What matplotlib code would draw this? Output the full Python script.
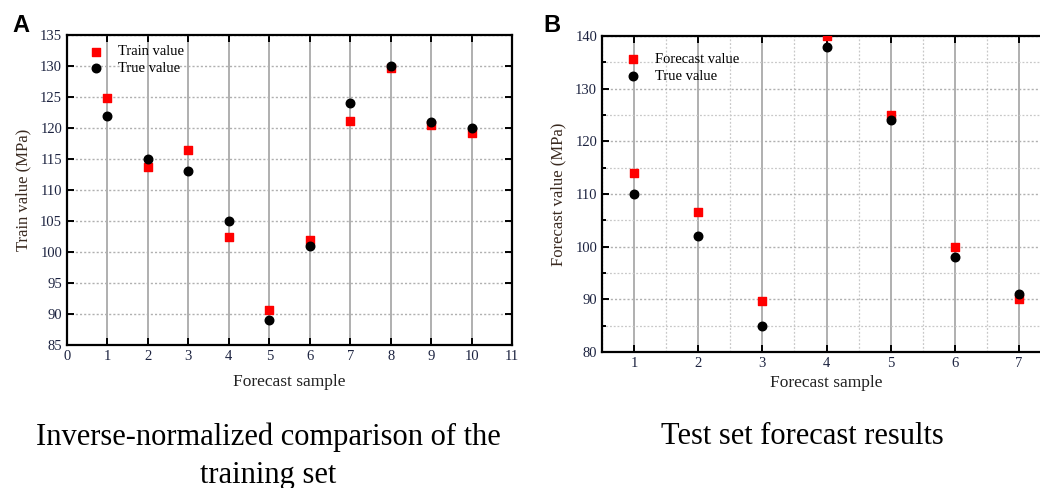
import matplotlib.pyplot as plt
from matplotlib.ticker import MultipleLocator

# Panel A: training set (inverse-normalized)
train_samples = [1, 2, 3, 4, 5, 6, 7, 8, 9, 10]
train_pred = [124.8, 113.7, 116.4, 102.4, 90.6, 102.0, 121.1, 129.6, 120.5, 119.2]
train_true = [122.0, 115.0, 113.0, 105.0, 89.0, 101.0, 124.0, 130.0, 121.0, 120.0]

# Panel B: test set
test_samples = [1, 2, 3, 4, 5, 6, 7]
test_pred = [114.0, 106.5, 89.7, 140.0, 125.0, 100.0, 90.0]
test_true = [110.0, 102.0, 85.0, 138.0, 124.0, 98.0, 91.0]

captions = ["Inverse-normalized comparison of the\ntraining set", "Test set forecast results"]

plt.rcParams['font.family'] = ['Liberation Serif', 'DejaVu Serif']
tick_color = '#1c2340'

fig = plt.figure(figsize=(10.4, 4.88), dpi=100)
W, H = 1040, 488


def px_axes(left, top, right, bottom):
    return fig.add_axes([left / W, 1 - bottom / H, (right - left) / W, (bottom - top) / H])


def style_axes(ax):
    for s in ax.spines.values():
        s.set_linewidth(1.6)
    ax.tick_params(which='both', direction='in', top=True, right=True,
                   labelsize=10.5, labelcolor=tick_color, width=1.4)
    ax.tick_params(which='major', length=5)
    ax.tick_params(which='minor', length=3)
    ax.set_axisbelow(True)


# ---- Panel A ----
ax1 = px_axes(67, 35, 512, 345)
ax1.scatter(train_samples, train_pred, marker='s', s=38, color='#ff0000', zorder=3, label='Train value')
ax1.scatter(train_samples, train_true, marker='o', s=38, color='black', zorder=3, label='True value')
ax1.set_xlim(0, 11)
ax1.set_ylim(85, 135)
ax1.xaxis.set_major_locator(MultipleLocator(1))
ax1.yaxis.set_major_locator(MultipleLocator(5))
ax1.grid(axis='x', color='#9a9a9a', lw=1.1, ls='-')
ax1.grid(axis='y', color='#b0b0b0', lw=1.0, ls=(0, (1.5, 1.5)))
style_axes(ax1)
ax1.set_xlabel('Forecast sample', fontsize=12.5, color='#222222', labelpad=8)
ax1.set_ylabel('Train value (MPa)', fontsize=12, color='#3a2a20', labelpad=6)
ax1.legend(loc='upper left', bbox_to_anchor=(0.01, 1.0), frameon=False, fontsize=10.5,
           handletextpad=0.5, labelspacing=0.25, borderaxespad=0.3)

# ---- Panel B ----
ax2 = px_axes(602, 36, 1051, 352)
ax2.scatter(test_samples, test_pred, marker='s', s=38, color='#ff0000', zorder=3, label='Forecast value')
ax2.scatter(test_samples, test_true, marker='o', s=38, color='black', zorder=3, label='True value')
ax2.set_xlim(0.5, 7.5)
ax2.set_ylim(80, 140)
ax2.xaxis.set_major_locator(MultipleLocator(1))
ax2.xaxis.set_minor_locator(MultipleLocator(0.5))
ax2.yaxis.set_major_locator(MultipleLocator(10))
ax2.yaxis.set_minor_locator(MultipleLocator(5))
ax2.grid(axis='x', which='major', color='#9a9a9a', lw=1.1, ls='-')
ax2.grid(axis='y', which='major', color='#b0b0b0', lw=1.0, ls=(0, (1.5, 1.5)))
ax2.grid(which='minor', color='#c8c8c8', lw=0.9, ls=(0, (1.5, 1.5)))
style_axes(ax2)
ax2.tick_params(axis='x', which='minor', length=0)
ax2.set_xlabel('Forecast sample', fontsize=12.5, color='#222222', labelpad=4)
ax2.set_ylabel('Forecast value (MPa)', fontsize=12, color='#3a2a20', labelpad=6)
ax2.legend(loc='upper left', bbox_to_anchor=(0.013, 0.98), frameon=False, fontsize=10.5,
           handletextpad=0.5, labelspacing=0.25, borderaxespad=0.3)

# panel letters
fig.text(12 / W, 1 - 25 / H, 'A', fontsize=17, fontweight='bold', family='Liberation Sans', va='center')
fig.text(543 / W, 1 - 25 / H, 'B', fontsize=17, fontweight='bold', family='Liberation Sans', va='center')

# captions
fig.text(268 / W, 1 - 456 / H, captions[0], fontsize=22, ha='center', va='center', linespacing=1.4)
fig.text(802 / W, 1 - 437 / H, captions[1], fontsize=22, ha='center', va='center')

fig.savefig('out.png', dpi=100)
